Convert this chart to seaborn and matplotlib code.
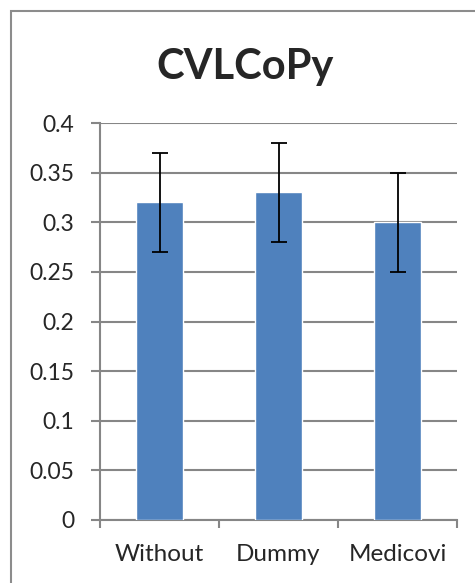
import numpy as np
import pandas as pd
import matplotlib
matplotlib.use('Agg')
import matplotlib.pyplot as plt
import seaborn as sns
from matplotlib.patches import Rectangle

groups = ['Without', 'Dummy', 'Medicovi']
means = [0.32, 0.33, 0.30]
errors = [0.05, 0.05, 0.05]
yticks = [0, 0.05, 0.1, 0.15, 0.2, 0.25, 0.3, 0.35, 0.4]
ytick_labels = ['0', '0.05', '0.1', '0.15', '0.2', '0.25', '0.3', '0.35', '0.4']

df = pd.DataFrame({'group': groups, 'value': means})

sns.set_style('white')
plt.rcParams['font.family'] = ['Lato', 'DejaVu Sans']

fig = plt.figure(figsize=(4.75, 5.83), dpi=100)
ax = fig.add_axes([100 / 475, 1 - 520 / 583, 357 / 475, 397 / 583])

sns.barplot(data=df, x='group', y='value', color='#4F81BD', saturation=1,
            width=0.4, errorbar=None, ax=ax, zorder=3)
ax.errorbar(x=np.arange(len(groups)), y=means, yerr=errors, fmt='none',
            ecolor='black', elinewidth=1.3, capsize=6, capthick=1.3, zorder=4)

ax.set_ylim(0, 0.4)
ax.set_xlim(-0.5, 2.5)
ax.set_yticks(yticks)
ax.set_yticklabels(ytick_labels, fontsize=16.5)
ax.yaxis.grid(True, color='#868686', linewidth=1.5, zorder=0)
ax.set_axisbelow(True)

ax.set_xticks(np.arange(len(groups)))
ax.set_xticklabels(groups, fontsize=17.5)
ax.set_xticks([-0.5, 0.5, 1.5, 2.5], minor=True)
ax.tick_params(axis='x', which='major', bottom=True, length=0, pad=17)
ax.tick_params(axis='x', which='minor', bottom=True, length=5.5, width=1.5,
               color='#868686', direction='out')
ax.tick_params(axis='y', left=True, length=6.5, width=1.5, color='#868686',
               direction='out', pad=12)

ax.set_xlabel('')
ax.set_ylabel('')
for side in ['top', 'right']:
    ax.spines[side].set_visible(False)
for side in ['left', 'bottom']:
    ax.spines[side].set_color('#868686')
    ax.spines[side].set_linewidth(1.5)

fig.text(245 / 475, 1 - 67 / 583, 'CVLCoPy', fontsize=30, fontweight='bold',
         ha='center', va='center')

fig.patches.append(Rectangle((10.5 / 475, -0.1), 1.2, 1 - 10.5 / 583 + 0.1,
                             transform=fig.transFigure, fill=False,
                             edgecolor='#8c8c8c', linewidth=1.5))

fig.savefig('out.png', dpi=100)
